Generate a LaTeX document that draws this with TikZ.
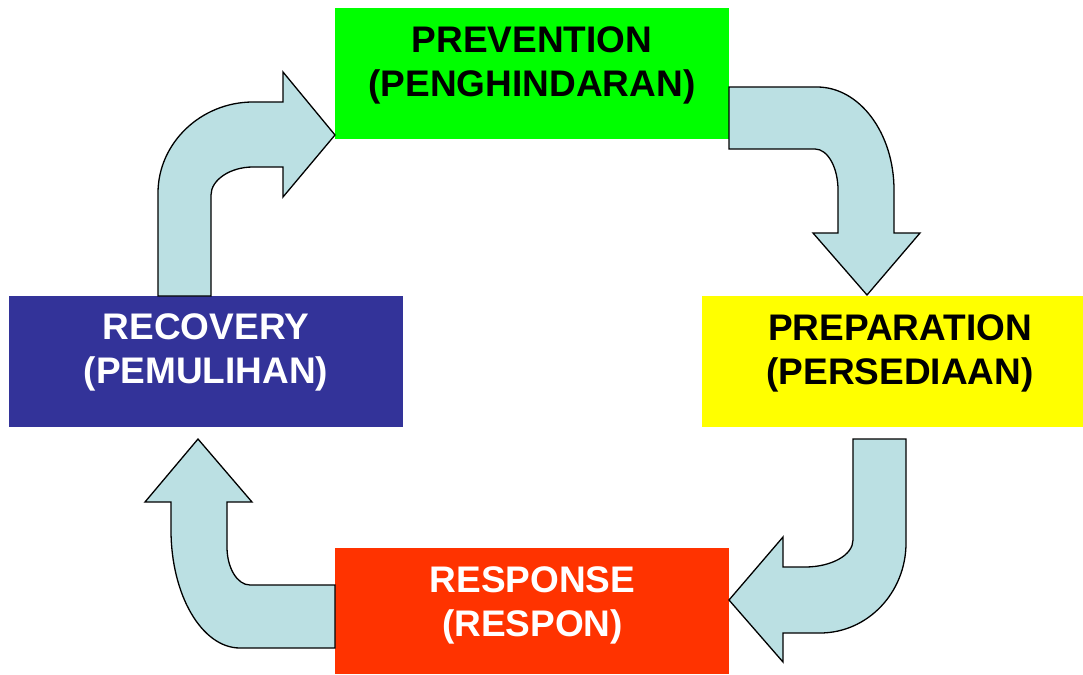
\documentclass[tikz,border=0pt]{standalone}
\usepackage{fontspec}
\setmainfont{Liberation Sans}
\definecolor{arrowfill}{HTML}{BBE0E3}
\definecolor{pgreen}{HTML}{00FF00}
\definecolor{pyellow}{HTML}{FFFF00}
\definecolor{pblue}{HTML}{333399}
\definecolor{pred}{HTML}{FF3300}
\tikzset{
  phasebox/.style={rectangle, inner sep=0pt, anchor=north west, minimum width=394pt, minimum height=131pt},
  phasetext/.style={align=center, inner sep=0pt, font=\bfseries\fontsize{37}{44}\selectfont},
  blockarrow/.style={draw=black, fill=arrowfill, line width=1.3pt, line join=miter}
}
\begin{document}
\begin{tikzpicture}[x=1pt, y=-1pt]
\useasboundingbox (0,0) rectangle (1083,674);
% boxes
\node[phasebox, fill=pgreen] (prev) at (335,8) {};
\node[phasebox, fill=pyellow, minimum width=381pt] (prep) at (702,296) {};
\node[phasebox, fill=pblue] (reco) at (9,296) {};
\node[phasebox, fill=pred, minimum height=126pt] (resp) at (335,548) {};
% labels
\node[phasetext, text=black] (tprev) at (532,65.6) {PREVENTION\\(PENGHINDARAN)};
\node[phasetext, text=black] (tprep) at (900,353.6) {PREPARATION\\(PERSEDIAAN)};
\node[phasetext, text=white] (treco) at (206,352.6) {RECOVERY\\(PEMULIHAN)};
\node[phasetext, text=white] (tresp) at (532.5,605.6) {RESPONSE\\(RESPON)};
% arrow: recovery -> prevention
\draw[blockarrow] (158,296) -- (158,193) .. controls (158,143) and (201,102) .. (253,102)
  -- (283,102) -- (283,72) -- (335,135) -- (283,197) -- (283,167) -- (253,167)
  .. controls (230,167) and (211,180) .. (211,195) -- (211,296) -- cycle;
% arrow: prevention -> preparation
\draw[blockarrow] (729,87) -- (817,87) .. controls (859.5,87) and (894,133) .. (894,190)
  -- (894,233) -- (920,233) -- (867,295) -- (813,233) -- (838,233) -- (838,190)
  .. controls (838,167.4) and (827.7,149) .. (815,149) -- (729,149) -- cycle;
% arrow: preparation -> response
\draw[blockarrow] (853,439) -- (906,439) -- (906,543) .. controls (906,592.7) and (867.5,633) .. (820,633)
  -- (783,633) -- (783,662) -- (729,600) -- (783,537) -- (783,567) -- (805,567)
  .. controls (831.5,567) and (853,555) .. (853,540) -- cycle;
% arrow: response -> recovery
\draw[blockarrow] (335,585) -- (335,648) -- (240,648) .. controls (201.9,648) and (171,595) .. (171,530)
  -- (171,502) -- (145,502) -- (198,439) -- (252,502) -- (227,502) -- (227,547)
  .. controls (227,568) and (237.3,585) .. (250,585) -- cycle;
\end{tikzpicture}
\end{document}
